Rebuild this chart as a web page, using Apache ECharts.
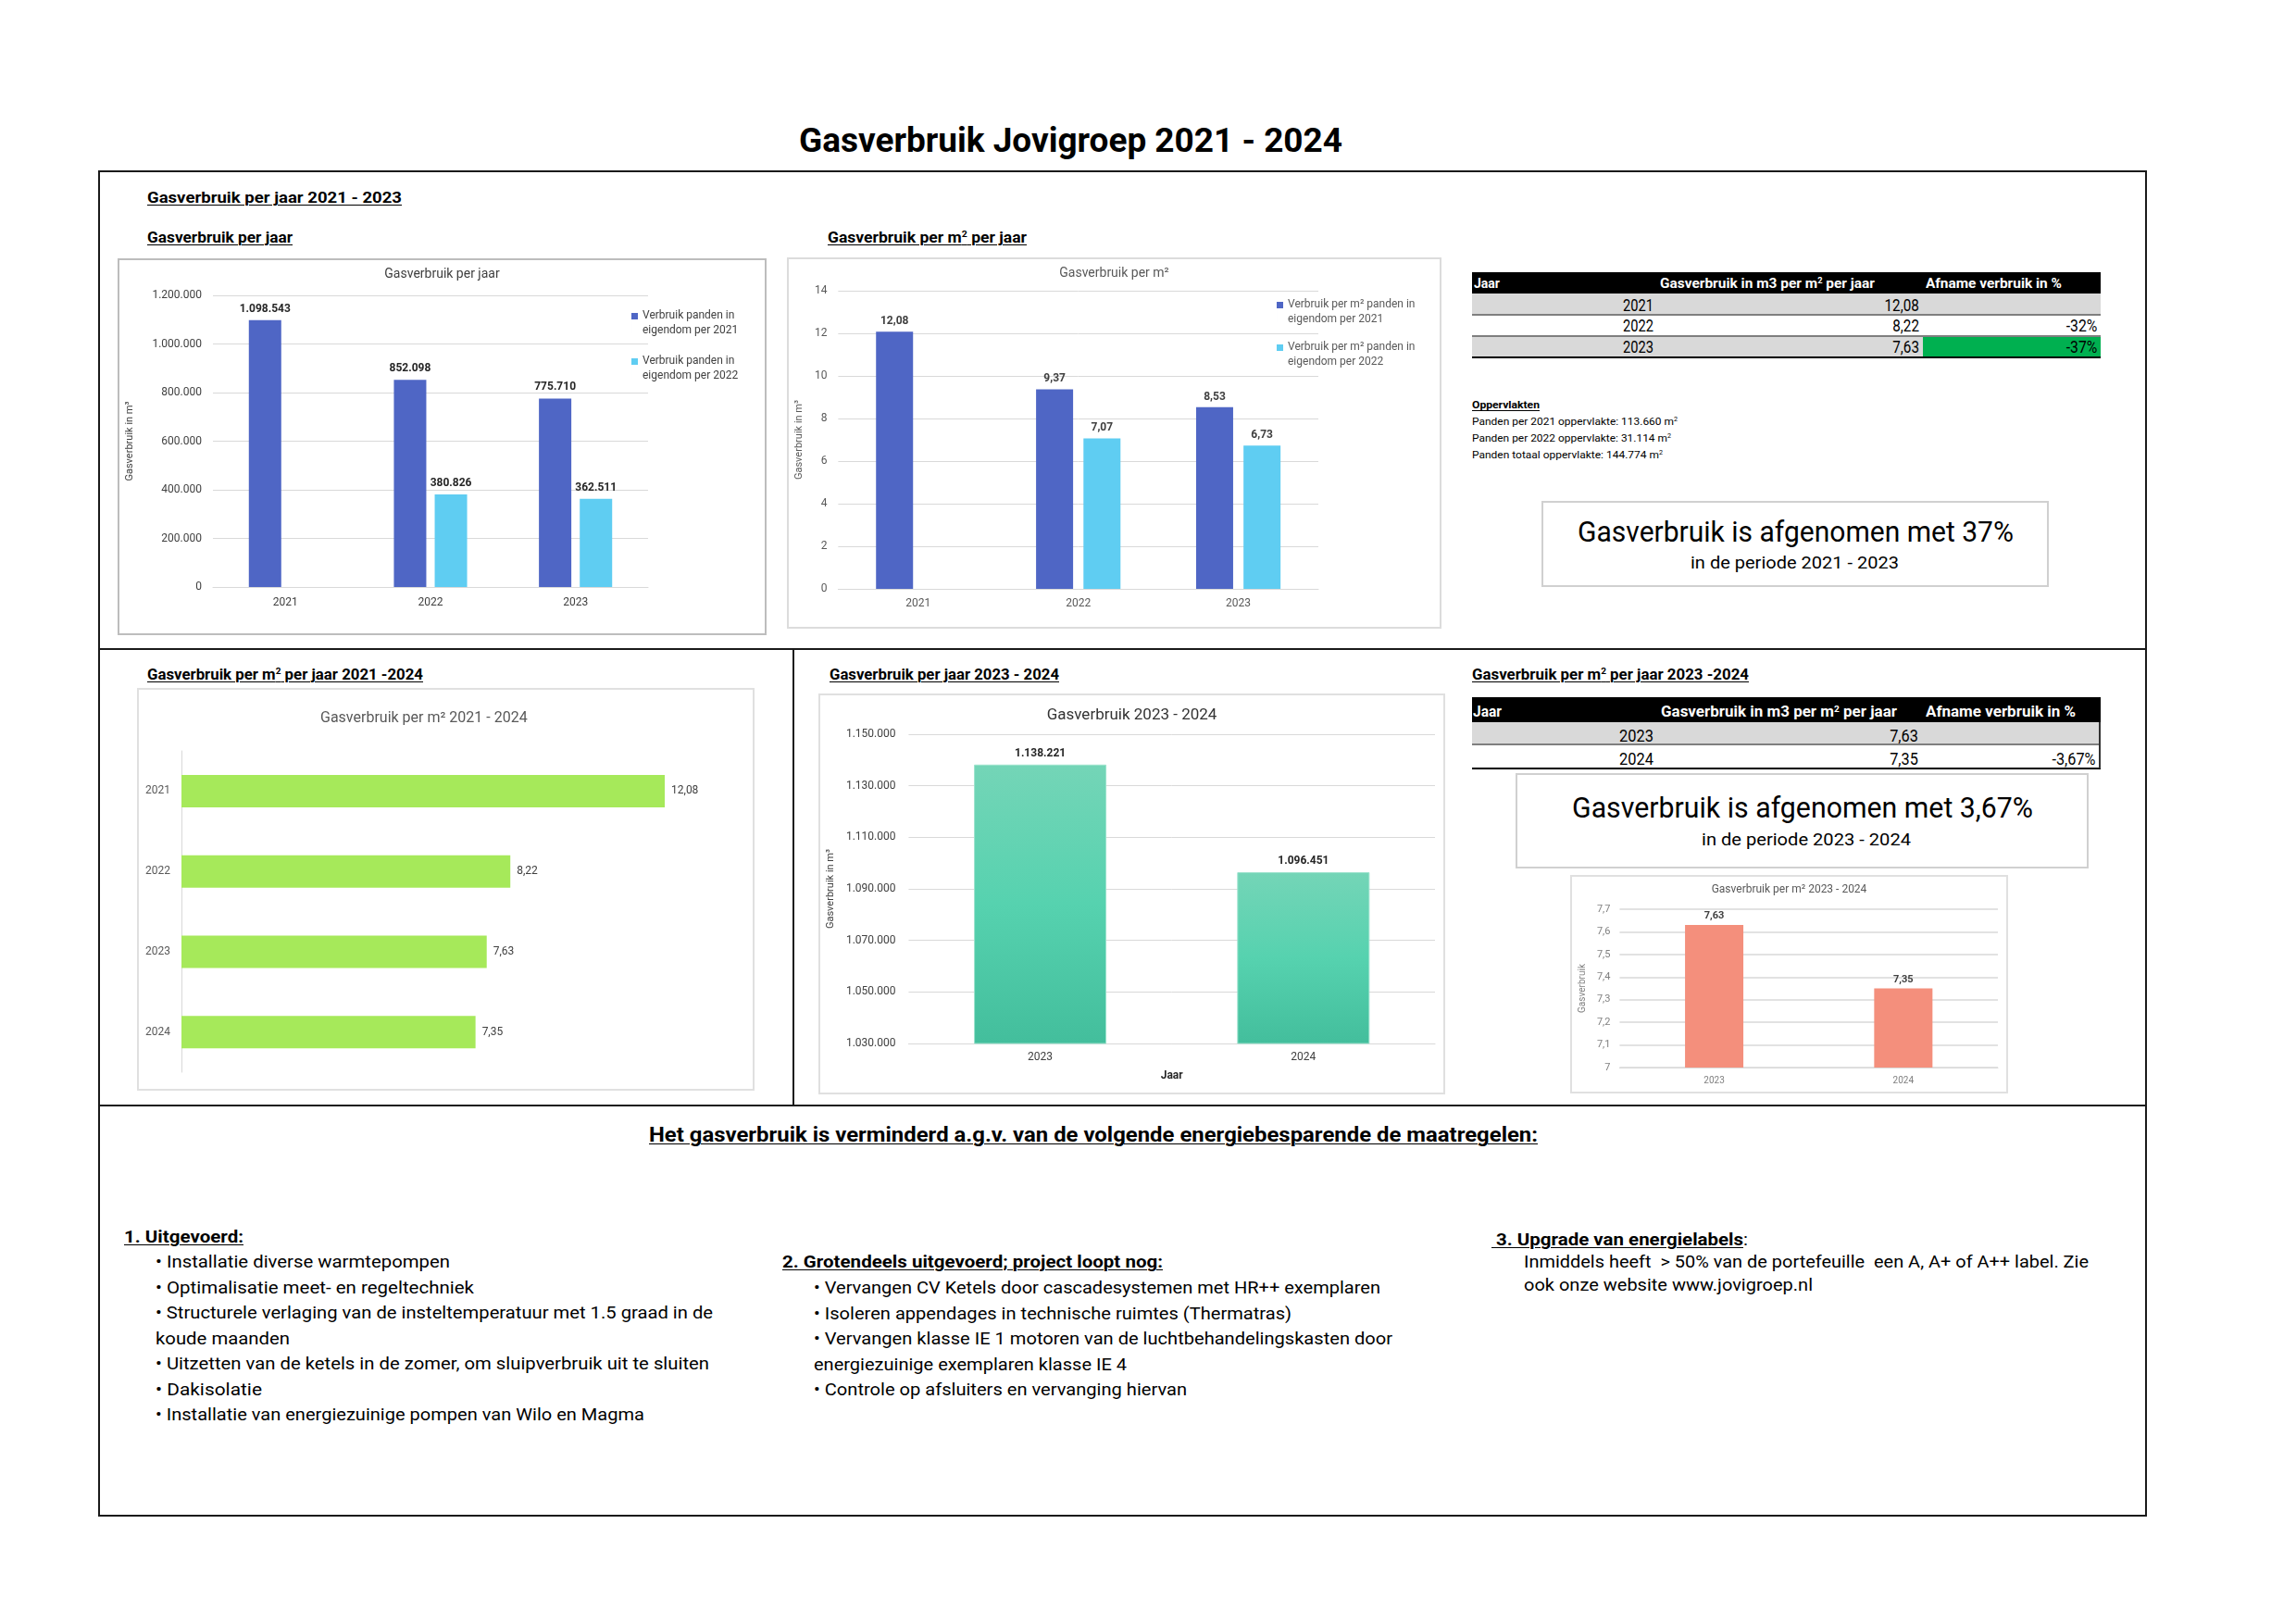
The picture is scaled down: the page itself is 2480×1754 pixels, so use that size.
<!DOCTYPE html>
<html><head><meta charset="utf-8">
<script src="https://cdn.jsdelivr.net/npm/echarts@6/dist/echarts.min.js"></script>
<style>
html,body{margin:0;padding:0;background:#fff;}
body{width:2480px;height:1754px;position:relative;overflow:hidden;font-family:Roboto,'Liberation Sans',sans-serif;color:#000;}
.t{position:absolute;white-space:nowrap;line-height:1.2;z-index:6;}
.t sup{font-size:0.6em;vertical-align:0;position:relative;top:-0.6em;line-height:0;}
.u{text-decoration:underline;text-decoration-thickness:1px;text-underline-offset:2px;}
.ln{position:absolute;background:#1a1a1a;z-index:7;}
.box{position:absolute;box-sizing:border-box;pointer-events:none;z-index:5;background:transparent;}
.fill{position:absolute;z-index:2;}
.ch{position:absolute;z-index:1;}
</style></head><body>
<script>
// ---------------- DATA ----------------
const years3 = ['2021', '2022', '2023'];
const verbruikPanden2021 = [1098543, 852098, 775710];
const verbruikPanden2022 = [null, 380826, 362511];
const perM2Panden2021 = [12.08, 9.37, 8.53];
const perM2Panden2022 = [null, 7.07, 6.73];
const years4 = ['2021', '2022', '2023', '2024'];
const perM2Totaal = [12.08, 8.22, 7.63, 7.35];
const years2 = ['2023', '2024'];
const verbruik2324 = [1138221, 1096451];
const perM2_2324 = [7.63, 7.35];
const afname1 = ['', '-32%', '-37%'];
const afname2 = ['', '-3,67%'];
const ticks1 = {min: 0, max: 1200000, step: 200000};
const ticks2 = {min: 0, max: 14, step: 2};
const ticks4 = {min: 1030000, max: 1150000, step: 20000};
const ticks5 = {min: 7, max: 7.7, step: 0.1};

// ---------------- HELPERS ----------------
const FONT = 'Roboto';
function fmtInt(v){ return String(Math.round(v)).replace(/\B(?=(\d{3})+(?!\d))/g, '.'); }
function fmtDec(v, d){ return v.toFixed(d).replace('.', ','); }
function fmtAxisDec(v){ return String(Math.round(v*10)/10).replace('.', ','); }

function T(x, base, w, html, size, opt){
  opt = opt || {};
  const d = document.createElement('div');
  d.className = 't' + (opt.u ? ' u' : '');
  d.innerHTML = html;
  d.style.fontSize = size + 'px';
  d.style.top = (base - 0.942*size) + 'px';
  if (opt.bold) d.style.fontWeight = '700';
  if (opt.color) d.style.color = opt.color;
  document.body.appendChild(d);
  const aw = d.getBoundingClientRect().width;
  let sx = opt.sx || (w ? w/aw : 1);
  if (opt.right !== undefined){
    d.style.left = (opt.right - aw) + 'px';
    d.style.transformOrigin = '100% 0';
  } else {
    d.style.left = x + 'px';
    d.style.transformOrigin = '0 0';
  }
  d.style.transform = 'scaleX(' + sx + ')';
  return d;
}
function L(x, y, w, h, c){
  const d = document.createElement('div'); d.className = 'ln';
  d.style.left = x+'px'; d.style.top = y+'px'; d.style.width = w+'px'; d.style.height = h+'px';
  if (c) d.style.background = c;
  document.body.appendChild(d);
}
function F(x, y, w, h, c){
  const d = document.createElement('div'); d.className = 'fill';
  d.style.left = x+'px'; d.style.top = y+'px'; d.style.width = w+'px'; d.style.height = h+'px';
  d.style.background = c;
  document.body.appendChild(d);
}
function B(x, y, w, h, c, bw){
  const d = document.createElement('div'); d.className = 'box';
  d.style.left = x+'px'; d.style.top = y+'px'; d.style.width = w+'px'; d.style.height = h+'px';
  d.style.border = (bw||2) + 'px solid ' + c;
  document.body.appendChild(d);
}
function chart(x, y, w, h, border, option){
  const d = document.createElement('div'); d.className = 'ch';
  d.style.left = x+'px'; d.style.top = y+'px'; d.style.width = w+'px'; d.style.height = h+'px';
  document.body.appendChild(d);
  B(x, y, w, h, border, 2);
  const c = echarts.init(d, null, {renderer: 'canvas'});
  c.setOption(option);
  return c;
}
const ICON = 'path://M0,0H10V10H0Z M0,0H0.01V31.4H0Z';

// ---------------- FRAME ----------------
L(106, 184, 2213, 2);
L(106, 1636, 2213, 2);
L(106, 184, 2, 1454);
L(2317, 184, 2, 1454);
L(106, 700, 2213, 2);
L(106, 1193, 2213, 2);
L(856, 701, 2, 493);

// ---------------- HEADINGS ----------------
T(863, 165, 587, 'Gasverbruik Jovigroep 2021 - 2024', 36, {bold: true});
T(159, 219, 275, 'Gasverbruik per jaar 2021 - 2023', 16, {bold: true, u: true});
T(159, 262, 157, 'Gasverbruik per jaar', 16, {bold: true, u: true});
T(894, 262, 215, 'Gasverbruik per m<sup>2</sup> per jaar', 16, {bold: true, u: true});
T(159, 734, 298, 'Gasverbruik per m<sup>2</sup> per jaar 2021 -2024', 16, {bold: true, u: true});
T(896, 734, 248, 'Gasverbruik per jaar 2023 - 2024', 16, {bold: true, u: true});
T(1590, 734, 299, 'Gasverbruik per m<sup>2</sup> per jaar 2023 -2024', 16, {bold: true, u: true});

// ---------------- TABLE 1 ----------------
F(1590, 294, 679, 23, '#000');
[[317, '#d9d9d9'], [340, '#ffffff'], [363, '#d9d9d9']].forEach(r => F(1590, r[0], 679, 23, r[1]));
F(2077, 363, 192, 23, '#00B050');
L(1590, 339, 679, 1.5, '#7f7f7f');
L(1590, 362, 679, 1.5, '#7f7f7f');
L(1590, 385, 679, 2, '#000');
T(1592, 312, 28, 'Jaar', 14.5, {bold: true, color: '#fff'});
T(1793, 312, 232, 'Gasverbruik in m3 per m<sup>2</sup> per jaar', 14.5, {bold: true, color: '#fff'});
T(2080, 312, 147, 'Afname verbruik in %', 14.5, {bold: true, color: '#fff'});
const base1 = [336, 358, 381];
years3.forEach((yr, i) => {
  T(1753, base1[i], 33, yr, 17.5);
  T(0, base1[i], null, fmtDec(perM2Totaal[i], 2), 17.5, {right: 2073, sx: 0.87});
  if (afname1[i]) T(0, base1[i], null, afname1[i], 17.5, {right: 2265, sx: 0.9});
});

// Oppervlakten
T(1590, 442, 73, 'Oppervlakten', 11.5, {bold: true, u: true});
T(1590, 460, 222, 'Panden per 2021 oppervlakte: 113.660 m<sup>2</sup>', 11.5);
T(1590, 478, 215, 'Panden per 2022 oppervlakte: 31.114 m<sup>2</sup>', 11.5);
T(1590, 496, 206, 'Panden totaal oppervlakte: 144.774 m<sup>2</sup>', 11.5);

// Box 1
B(1665, 541, 548, 93, '#d0d0d0', 2);
T(1704, 585, 471, 'Gasverbruik is afgenomen met 37%', 31);
T(1826, 615, 225, 'in de periode 2021 - 2023', 19);

// ---------------- TABLE 2 ----------------
F(1590, 753, 679, 27, '#000');
F(1590, 780, 679, 24, '#d9d9d9');
L(1590, 803, 679, 1.5, '#7f7f7f');
L(1590, 829, 679, 2, '#000');
L(2267, 780, 2, 50, '#333');
T(1591, 775, 31, 'Jaar', 16.5, {bold: true, color: '#fff'});
T(1794, 775, 255, 'Gasverbruik in m3 per m<sup>2</sup> per jaar', 16.5, {bold: true, color: '#fff'});
T(2080, 775, 162, 'Afname verbruik in %', 16.5, {bold: true, color: '#fff'});
const base2 = [801, 826];
years2.forEach((yr, i) => {
  T(1749, base2[i], 37, yr, 18.5);
  T(0, base2[i], null, fmtDec(perM2_2324[i], 2), 18.5, {right: 2072, sx: 0.88});
  if (afname2[i]) T(0, base2[i], null, afname2[i], 18.5, {right: 2263, sx: 0.88});
});

// Box 2
B(1637, 835, 619, 103, '#d0d0d0', 2);
T(1698, 883, 498, 'Gasverbruik is afgenomen met 3,67%', 31);
T(1838, 914, 226, 'in de periode 2023 - 2024', 19);

// ---------------- BOTTOM TEXT ----------------
T(701, 1234, 960, 'Het gasverbruik is verminderd a.g.v. van de volgende energiebesparende de maatregelen:', 22, {bold: true, u: true});
T(134, 1342, 129, '1. Uitgevoerd:', 17.5, {bold: true, u: true});
const l1 = [
  [168, 318, '• Installatie diverse warmtepompen'],
  [168, 344, '• Optimalisatie meet- en regeltechniek'],
  [168, 602, '• Structurele verlaging van de insteltemperatuur met 1.5 graad in de'],
  [168, 145, 'koude maanden'],
  [168, 598, '• Uitzetten van de ketels in de zomer, om sluipverbruik uit te sluiten'],
  [168, 115, '• Dakisolatie'],
  [168, 528, '• Installatie van energiezuinige pompen van Wilo en Magma']
];
l1.forEach((r, i) => T(r[0], 1369 + i*27.5, r[1], r[2], 18));
T(845, 1369, 411, '2. Grotendeels uitgevoerd; project loopt nog:', 17.5, {bold: true, u: true});
const l2 = [
  [879, 612, '• Vervangen CV Ketels door cascadesystemen met HR++ exemplaren'],
  [879, 516, '• Isoleren appendages in technische ruimtes (Thermatras)'],
  [879, 625, '• Vervangen klasse IE 1 motoren van de luchtbehandelingskasten door'],
  [879, 338, 'energiezuinige exemplaren klasse IE 4'],
  [879, 403, '• Controle op afsluiters en vervanging hiervan']
];
l2.forEach((r, i) => T(r[0], 1397 + i*27.5, r[1], r[2], 18));
T(1611, 1345, 277, '<span class="u"><b>&nbsp;3. Upgrade van energielabels</b></span>:', 17.5);
T(1646, 1369, 610, 'Inmiddels heeft &nbsp;&gt; 50% van de portefeuille &nbsp;een A, A+ of A++ label. Zie', 17.5);
T(1646, 1394, 312, 'ook onze website www.jovigroep.nl', 17.5);

// ---------------- CHARTS ----------------
const gridLine = {lineStyle: {color: '#d9d9d9', width: 1}};

// Chart 1: Gasverbruik per jaar
chart(127, 279, 701, 407, '#bdbdbd', {
  animation: false,
  textStyle: {fontFamily: FONT},
  title: {text: 'Gasverbruik per jaar', left: 'center', top: 10, padding: 0,
    textStyle: {fontSize: 14, fontWeight: 'normal', color: '#404040', fontFamily: FONT}},
  legend: {orient: 'vertical', left: 555, top: 54, padding: 0, itemWidth: 7, itemHeight: 22, itemGap: 17, icon: ICON,
    textStyle: {fontSize: 12, lineHeight: 16, color: '#404040', fontFamily: FONT}},
  grid: {left: 100, top: 40, width: 473, height: 315},
  xAxis: {type: 'category', data: years3, axisLine: {lineStyle: {color: '#d9d9d9'}}, axisTick: {show: false},
    axisLabel: {fontSize: 12, color: '#404040', margin: 11, fontFamily: FONT}},
  yAxis: {type: 'value', min: ticks1.min, max: ticks1.max, interval: ticks1.step,
    name: 'Gasverbruik in m³', nameLocation: 'middle', nameGap: 84,
    nameTextStyle: {fontSize: 11, color: '#404040', fontFamily: FONT},
    axisLabel: {formatter: fmtInt, fontSize: 12, color: '#404040', margin: 12, fontFamily: FONT},
    splitLine: gridLine},
  series: [
    {type: 'bar', name: 'Verbruik panden in\neigendom per 2021', data: verbruikPanden2021, barWidth: 35, barGap: '26%',
      itemStyle: {color: '#4F66C5'},
      label: {show: true, position: 'top', distance: 6, fontSize: 12, fontWeight: 'bold', color: '#262626', fontFamily: FONT,
        formatter: p => fmtInt(p.value)}},
    {type: 'bar', name: 'Verbruik panden in\neigendom per 2022', data: verbruikPanden2022, barWidth: 35, barGap: '26%',
      itemStyle: {color: '#5FCDF2'},
      label: {show: true, position: 'top', distance: 6, fontSize: 12, fontWeight: 'bold', color: '#262626', fontFamily: FONT,
        formatter: p => fmtInt(p.value)}}
  ]
});

// Chart 2: Gasverbruik per m2
chart(850, 278, 707, 401, '#dcdcdc', {
  animation: false,
  textStyle: {fontFamily: FONT},
  title: {text: 'Gasverbruik per m²', left: 'center', top: 10, padding: 0,
    textStyle: {fontSize: 14, fontWeight: 'normal', color: '#595959', fontFamily: FONT}},
  legend: {orient: 'vertical', left: 529, top: 43, padding: 0, itemWidth: 7, itemHeight: 22, itemGap: 14, icon: ICON,
    textStyle: {fontSize: 12, lineHeight: 16, color: '#595959', fontFamily: FONT}},
  grid: {left: 48, top: 36, width: 526, height: 322},
  xAxis: {type: 'category', data: years3, axisLine: {lineStyle: {color: '#d9d9d9'}}, axisTick: {show: false},
    axisLabel: {fontSize: 12, color: '#595959', margin: 10, fontFamily: FONT}},
  yAxis: {type: 'value', min: ticks2.min, max: ticks2.max, interval: ticks2.step,
    name: 'Gasverbruik in m³', nameLocation: 'middle', nameGap: 29,
    nameTextStyle: {fontSize: 11, color: '#595959', fontFamily: FONT},
    axisLabel: {fontSize: 12, color: '#595959', margin: 12, fontFamily: FONT},
    splitLine: gridLine},
  series: [
    {type: 'bar', name: 'Verbruik per m² panden in\neigendom per 2021', data: perM2Panden2021, barWidth: 40, barGap: '28%',
      itemStyle: {color: '#4F66C5'},
      label: {show: true, position: 'top', distance: 5, fontSize: 12, fontWeight: 'bold', color: '#404040', fontFamily: FONT,
        formatter: p => fmtDec(p.value, 2)}},
    {type: 'bar', name: 'Verbruik per m² panden in\neigendom per 2022', data: perM2Panden2022, barWidth: 40, barGap: '28%',
      itemStyle: {color: '#5FCDF2'},
      label: {show: true, position: 'top', distance: 5, fontSize: 12, fontWeight: 'bold', color: '#404040', fontFamily: FONT,
        formatter: p => fmtDec(p.value, 2)}}
  ]
});

// Chart 3: horizontal bars 2021-2024
chart(148, 743, 667, 435, '#e0e0e0', {
  animation: false,
  textStyle: {fontFamily: FONT},
  title: {text: 'Gasverbruik per m² 2021 - 2024', left: 198, top: 25, padding: 0,
    textStyle: {fontSize: 16, fontWeight: 'normal', color: '#595959', fontFamily: FONT}},
  grid: {left: 48, top: 68, width: 605, height: 347},
  xAxis: {type: 'value', min: 0, max: 14, show: false},
  yAxis: {type: 'category', data: years4, inverse: true, axisLine: {lineStyle: {color: '#d9d9d9'}}, axisTick: {show: false},
    axisLabel: {fontSize: 12, color: '#595959', margin: 12, fontFamily: FONT}},
  series: [{type: 'bar', data: perM2Totaal, barWidth: 35, itemStyle: {color: '#A6E95A'},
    label: {show: true, position: 'right', distance: 7, fontSize: 12, color: '#404040', fontFamily: FONT,
      formatter: p => fmtDec(p.value, 2)}}]
});

// Chart 4: Gasverbruik 2023 - 2024
chart(884, 749, 677, 433, '#e0e0e0', {
  animation: false,
  textStyle: {fontFamily: FONT},
  title: {text: 'Gasverbruik 2023 - 2024', left: 'center', top: 15, padding: 0,
    textStyle: {fontSize: 17, fontWeight: 'normal', color: '#333333', fontFamily: FONT}},
  grid: {left: 96, top: 44, width: 570, height: 334},
  xAxis: {type: 'category', data: years2, axisLine: {lineStyle: {color: '#d9d9d9'}}, axisTick: {show: false},
    name: 'Jaar', nameLocation: 'middle', nameGap: 29,
    nameTextStyle: {fontSize: 12, fontWeight: 'bold', color: '#262626', fontFamily: FONT},
    axisLabel: {fontSize: 12, color: '#404040', margin: 9, fontFamily: FONT}},
  yAxis: {type: 'value', min: ticks4.min, max: ticks4.max, interval: ticks4.step,
    name: 'Gasverbruik in m³', nameLocation: 'middle', nameGap: 71,
    nameTextStyle: {fontSize: 11, color: '#404040', fontFamily: FONT},
    axisLabel: {formatter: fmtInt, fontSize: 12, color: '#404040', margin: 14, fontFamily: FONT},
    splitLine: gridLine},
  series: [{type: 'bar', data: verbruik2324, barWidth: 143,
    itemStyle: {color: new echarts.graphic.LinearGradient(0, 0, 0, 1, [
      {offset: 0, color: '#74D5B7'}, {offset: 0.5, color: '#56D2AF'}, {offset: 1, color: '#43BE9C'}]),
      borderColor: '#9be3cd', borderWidth: 1},
    label: {show: true, position: 'top', distance: 6, fontSize: 12, fontWeight: 'bold', color: '#262626', fontFamily: FONT,
      formatter: p => fmtInt(p.value)}}]
});

// Chart 5: Gasverbruik per m2 2023 - 2024
chart(1696, 945, 473, 236, '#e0e0e0', {
  animation: false,
  textStyle: {fontFamily: FONT},
  title: {text: 'Gasverbruik per m² 2023 - 2024', left: 'center', top: 10, padding: 0,
    textStyle: {fontSize: 12, fontWeight: 'normal', color: '#595959', fontFamily: FONT}},
  grid: {left: 52, top: 37, width: 410, height: 171},
  xAxis: {type: 'category', data: years2, axisLine: {lineStyle: {color: '#d9d9d9'}}, axisTick: {show: false},
    axisLabel: {fontSize: 10, color: '#7f7f7f', margin: 9, fontFamily: FONT}},
  yAxis: {type: 'value', min: ticks5.min, max: ticks5.max, interval: ticks5.step,
    name: 'Gasverbruik', nameLocation: 'middle', nameGap: 28,
    nameTextStyle: {fontSize: 10, color: '#7f7f7f', fontFamily: FONT},
    axisLabel: {formatter: fmtAxisDec, fontSize: 11, color: '#7f7f7f', margin: 10, fontFamily: FONT},
    splitLine: {lineStyle: {color: '#d9d9d9', width: 1.5}}},
  series: [{type: 'bar', data: perM2_2324, barWidth: 63, itemStyle: {color: '#F48F7C'},
    label: {show: true, position: 'top', distance: 4, fontSize: 11, fontWeight: 'bold', color: '#404040', fontFamily: FONT,
      formatter: p => fmtDec(p.value, 2)}}]
});
</script>
</body></html>
